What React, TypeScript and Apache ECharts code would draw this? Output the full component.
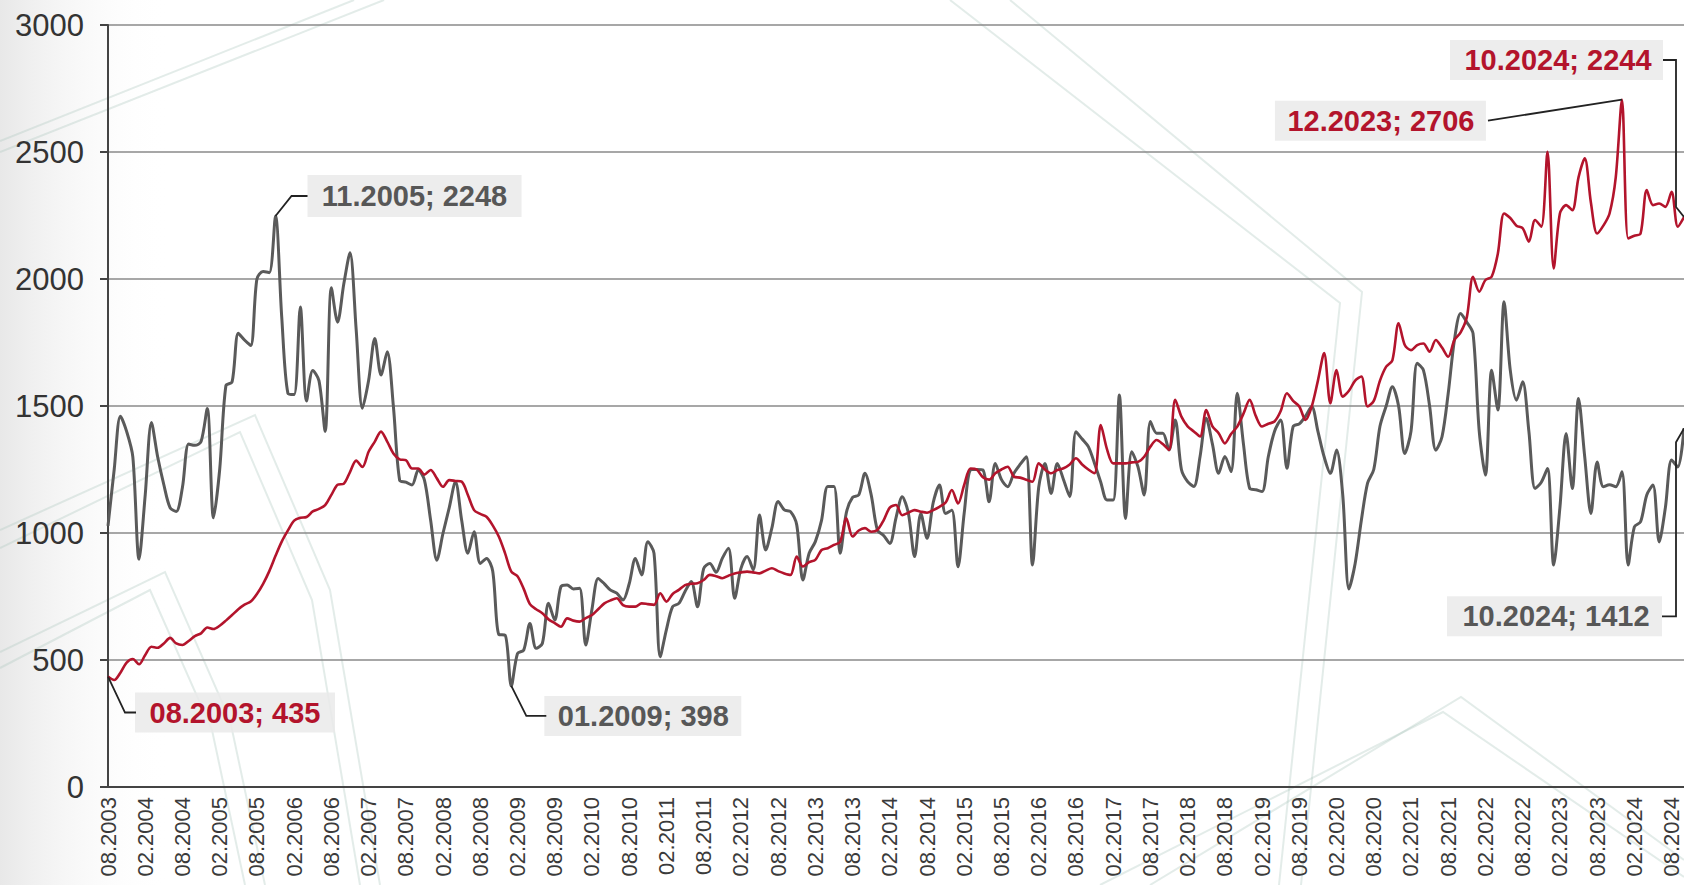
import React, { useEffect, useRef } from "react";
import * as echarts from "echarts";

// ---- categories: monthly from 08.2003 to 10.2024 ----
const firstYear = 2003;
const firstMonth = 8;
const monthCount = 255;
const categories: string[] = [];
for (let k = 0; k < monthCount; k++) {
  const m = ((firstMonth - 1 + k) % 12) + 1;
  const y = firstYear + Math.floor((firstMonth - 1 + k) / 12);
  categories.push(`${String(m).padStart(2, "0")}.${y}`);
}

const yMin = 0;
const yMax = 3000;
const yStep = 500;

// ---- gray series (volatile) ----
const grayValues = [
  1028, 1250, 1460, 1400, 1300, // 2003 (08-12)
  897, 1150, 1435, 1300, 1190, 1100, 1085, 1180, 1350, 1345, 1360, 1490, // 2004
  1060, 1250, 1580, 1595, 1786, 1760, 1738, 2000, 2030, 2025, 2248, 1850, // 2005
  1550, 1545, 1890, 1520, 1640, 1600, 1400, 1966, 1830, 1980, 2103, 1800, // 2006
  1491, 1600, 1766, 1622, 1714, 1497, 1208, 1200, 1189, 1248, 1208, 1050, // 2007
  893, 1000, 1100, 1202, 1050, 920, 1005, 880, 900, 850, 600, 598, // 2008
  398, 526, 539, 644, 546, 565, 723, 657, 789, 795, 780, 782, // 2009
  559, 700, 821, 800, 775, 763, 736, 800, 900, 835, 966, 920, // 2010
  513, 620, 710, 723, 770, 809, 710, 860, 880, 845, 900, 940, // 2011
  743, 860, 907, 855, 1071, 933, 1020, 1124, 1091, 1084, 1032, 815, // 2012
  920, 966, 1050, 1183, 1183, 920, 1080, 1140, 1150, 1235, 1150, 1012, // 2013
  990, 959, 1060, 1143, 1077, 907, 1077, 979, 1120, 1189, 1077, 1090, // 2014
  867, 1080, 1248, 1250, 1248, 1123, 1274, 1210, 1182, 1235, 1270, 1300, // 2015
  874, 1180, 1274, 1156, 1274, 1210, 1143, 1399, 1370, 1340, 1274, 1200, // 2016
  1130, 1130, 1543, 1057, 1320, 1260, 1150, 1439, 1393, 1393, 1327, 1445, // 2017
  1250, 1202, 1183, 1300, 1452, 1350, 1235, 1301, 1242, 1550, 1350, 1176, // 2018
  1170, 1163, 1300, 1400, 1445, 1255, 1419, 1430, 1460, 1498, 1400, 1300, // 2019
  1235, 1327, 1150, 780, 880, 1050, 1196, 1250, 1420, 1500, 1576, 1500, // 2020
  1313, 1400, 1668, 1641, 1500, 1326, 1379, 1550, 1760, 1864, 1830, 1786, // 2021
  1400, 1228, 1641, 1484, 1910, 1641, 1523, 1595, 1400, 1175, 1200, 1254, // 2022
  874, 1100, 1392, 1175, 1530, 1300, 1077, 1280, 1182, 1190, 1182, 1241, // 2023
  874, 1024, 1044, 1150, 1189, 965, 1100, 1287, 1260, 1412, // 2024 (01-10)
];

// ---- red series (smoother) ----
const redValues = [
  435, 421, 450, 490, 504, // 2003
  483, 520, 552, 548, 565, 587, 565, 559, 575, 594, 605, 628, // 2004
  622, 635, 655, 677, 700, 718, 730, 760, 800, 850, 910, 966, // 2005
  1010, 1049, 1060, 1063, 1085, 1095, 1110, 1150, 1190, 1194, 1240, 1285, // 2006
  1260, 1320, 1360, 1399, 1360, 1313, 1290, 1287, 1254, 1254, 1230, 1248, // 2007
  1215, 1182, 1208, 1205, 1202, 1150, 1090, 1075, 1064, 1030, 985, 920, // 2008
  848, 830, 780, 720, 700, 684, 660, 645, 631, 664, 655, 651, // 2009
  665, 677, 700, 723, 735, 743, 716, 710, 710, 723, 720, 717, // 2010
  763, 730, 760, 776, 795, 800, 802, 815, 835, 830, 822, 832, // 2011
  841, 845, 848, 845, 841, 852, 861, 850, 841, 835, 907, 868, // 2012
  885, 894, 933, 940, 953, 965, 1058, 986, 1010, 1019, 1005, 1012, // 2013
  1050, 1100, 1110, 1070, 1080, 1090, 1084, 1080, 1090, 1103, 1120, 1169, // 2014
  1116, 1190, 1254, 1250, 1220, 1210, 1235, 1250, 1261, 1222, 1218, 1210, // 2015
  1202, 1274, 1250, 1235, 1248, 1255, 1270, 1294, 1270, 1250, 1235, 1425, // 2016
  1330, 1274, 1274, 1274, 1278, 1280, 1300, 1340, 1366, 1350, 1327, 1524, // 2017
  1458, 1420, 1400, 1380, 1484, 1420, 1393, 1353, 1390, 1419, 1470, 1524, // 2018
  1460, 1419, 1430, 1439, 1480, 1550, 1520, 1498, 1445, 1498, 1600, 1708, // 2019
  1511, 1642, 1537, 1560, 1600, 1616, 1498, 1520, 1600, 1655, 1680, 1826, // 2020
  1740, 1720, 1740, 1746, 1714, 1760, 1730, 1694, 1760, 1790, 1850, 2009, // 2021
  1950, 1996, 2009, 2100, 2258, 2240, 2210, 2200, 2147, 2232, 2206, 2501, // 2022
  2042, 2258, 2291, 2271, 2400, 2475, 2300, 2179, 2210, 2258, 2400, 2706, // 2023
  2160, 2170, 2179, 2350, 2291, 2297, 2284, 2343, 2206, 2244, // 2024
];

// ---- callouts (which point, which series) ----
const calloutPoints = [
  { series: "gray", index: 27 },
  { series: "red", index: 0 },
  { series: "gray", index: 65 },
  { series: "red", index: 244 },
  { series: "red", index: 254 },
  { series: "gray", index: 254 },
];

// layout of each callout relative to its point (pixels)
const calloutLayout = [
  { leader: [[0, 0], [16, -20], [32, -20]], box: [32, -41, 214, 42], text: [139, -20] },
  { leader: [[0, 0], [17, 36], [28, 36]], box: [27, 16, 200, 40], text: [127, 36] },
  { leader: [[0, 0], [15, 30], [35, 30]], box: [33, 10, 197, 40], text: [132, 30] },
  { leader: [[-134, 21], [0, 0]], box: [-347, 1, 211, 40], text: [-241, 21] },
  { leader: [[-21, -157], [-8, -157], [-8, -10], [0, 0]], box: [-234, -177, 213, 40], text: [-126, -157] },
  { leader: [[-22, 188], [-8, 188], [-8, 14], [0, 0]], box: [-237, 168, 215, 40], text: [-128, 188] },
];

const GRAY = "#5a5a5a";
const RED = "#b3142c";
const FONT = '"Liberation Sans", Arial, sans-serif';

const decorLines: number[][][] = [
  [[0, 141], [354, 0]],
  [[0, 152], [384, 0]],
  [[0, 530], [255, 415], [330, 590], [380, 885]],
  [[0, 548], [240, 432], [312, 600], [360, 885]],
  [[0, 652], [165, 572], [230, 720], [265, 885]],
  [[0, 668], [150, 590], [212, 730], [245, 885]],
  [[950, 0], [1340, 303], [1279, 885]],
  [[1010, 0], [1362, 292], [1301, 885]],
  [[1100, 885], [1443, 712], [1684, 877]],
  [[1150, 885], [1461, 697], [1684, 860]],
];

export default function App() {
  const ref = useRef<HTMLDivElement>(null);

  useEffect(() => {
    document.body.style.margin = "0";
    const el = ref.current!;
    const chart = echarts.init(el, null, { renderer: "svg" });
    const option: any = {
      animation: false,
      backgroundColor: "#ffffff",
      grid: { left: 108, top: 25, width: 1581, height: 762, containLabel: false },
      xAxis: {
        type: "category",
        data: categories,
        boundaryGap: false,
        axisLine: { show: true, lineStyle: { color: "#444444", width: 2 } },
        axisTick: { show: false },
        splitLine: { show: false },
        axisLabel: {
          interval: 5,
          rotate: 90,
          fontSize: 22,
          fontFamily: FONT,
          color: "#3a3a3a",
          margin: 10,
        },
      },
      yAxis: {
        type: "value",
        min: yMin,
        max: yMax,
        interval: yStep,
        axisLine: { show: true, lineStyle: { color: "#444444", width: 2 } },
        axisTick: { show: true, length: 8, lineStyle: { color: "#444444", width: 2 } },
        splitLine: { show: true, lineStyle: { color: "#8a8a8a", width: 1.5 } },
        axisLabel: {
          fontSize: 31,
          fontFamily: FONT,
          color: "#333333",
          margin: 24,
          formatter: (v: number) => String(v),
        },
      },
      series: [
        {
          name: "gray",
          type: "line",
          data: grayValues,
          smooth: 0.3,
          symbol: "none",
          lineStyle: { color: GRAY, width: 3 },
          z: 2,
        },
        {
          name: "red",
          type: "line",
          data: redValues,
          smooth: 0.3,
          symbol: "none",
          lineStyle: { color: RED, width: 2.6 },
          z: 3,
        },
      ],
    };
    chart.setOption(option);

    const graphics: any[] = [];
    graphics.push({
      type: "rect",
      z: -20,
      silent: true,
      shape: { x: 0, y: 0, width: 170, height: 885 },
      style: {
        fill: new echarts.graphic.LinearGradient(0, 0, 1, 0, [
          { offset: 0, color: "#e8e8e8" },
          { offset: 1, color: "rgba(255,255,255,0)" },
        ]),
      },
    });
    decorLines.forEach((pts) => {
      graphics.push({
        type: "polyline",
        z: -10,
        silent: true,
        shape: { points: pts },
        style: { stroke: "rgba(175,200,192,0.35)", lineWidth: 2, fill: null },
      });
    });

    calloutPoints.forEach((c, k) => {
      const values = c.series === "red" ? redValues : grayValues;
      const v = values[c.index];
      const p = chart.convertToPixel({ xAxisIndex: 0, yAxisIndex: 0 }, [c.index, v]) as number[];
      const L = calloutLayout[k];
      const color = c.series === "red" ? RED : "#575757";
      graphics.push({
        type: "rect",
        z: 20,
        shape: { x: p[0] + L.box[0], y: p[1] + L.box[1], width: L.box[2], height: L.box[3] },
        style: { fill: "rgba(234,234,234,0.85)" },
      });
      graphics.push({
        type: "polyline",
        z: 21,
        shape: { points: L.leader.map((q) => [p[0] + q[0], p[1] + q[1]]) },
        style: { stroke: "#222222", lineWidth: 1.8, fill: null },
      });
      graphics.push({
        type: "text",
        z: 22,
        x: p[0] + L.text[0],
        y: p[1] + L.text[1],
        style: {
          text: `${categories[c.index]}; ${v}`,
          fill: color,
          font: `bold 29px ${FONT}`,
          textAlign: "center",
          textVerticalAlign: "middle",
          align: "center",
          verticalAlign: "middle",
        },
      });
    });

    chart.setOption({ graphic: graphics });
    return () => chart.dispose();
  }, []);

  return (
    <div
      ref={ref}
      style={{ position: "absolute", left: 0, top: 0, width: 1684, height: 885 }}
    />
  );
}
